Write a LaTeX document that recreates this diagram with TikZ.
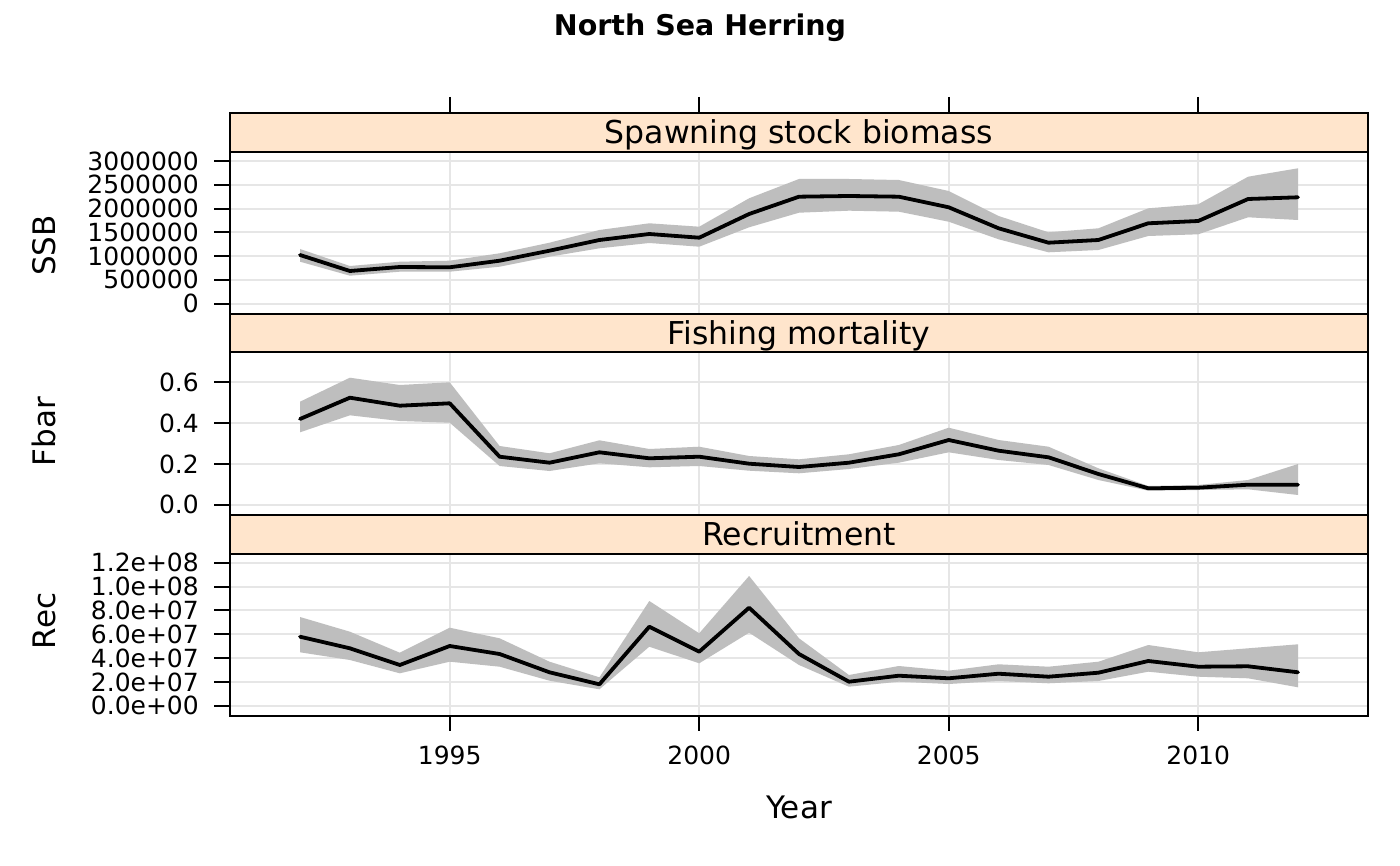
\documentclass[tikz,border=0pt]{standalone}
\usepackage{fontspec}
\setmainfont{DejaVu Sans}
\definecolor{stripbg}{HTML}{FFE5CC}
\definecolor{bandgray}{HTML}{BEBEBE}
\definecolor{gridc}{HTML}{E6E6E6}
\tikzset{
  frame/.style={line width=2pt, draw=black},
  tickmark/.style={line width=2pt, draw=black},
  gridline/.style={line width=2pt, draw=gridc},
  series/.style={line width=3.8pt, line join=round, line cap=round, draw=black},
  bandfill/.style={fill=bandgray, draw=none},
  ticklab/.style={font=\fontsize{25}{28}\selectfont, inner sep=0pt, text=black},
  striplab/.style={font=\fontsize{31.5}{36}\selectfont, inner sep=0pt, anchor=base},
  axlab/.style={font=\fontsize{31}{36}\selectfont, inner sep=0pt, anchor=base},
  titlelab/.style={font=\bfseries\fontsize{28.5}{32}\selectfont, inner sep=0pt, anchor=base},
}
\begin{document}
\begin{tikzpicture}[x=1pt, y=-1pt]
\useasboundingbox (0,0) rectangle (1400,866);
\fill[white] (0,0) rectangle (1400,866);

% ---------- grid lines ----------
\foreach \yy in {161.0,184.8,208.6,232.3,256.1,279.9,303.7}
  \draw[gridline] (230,\yy) -- (1367.7,\yy);
\foreach \yy in {382.3,423.1,463.9,504.7}
  \draw[gridline] (230,\yy) -- (1367.7,\yy);
\foreach \yy in {562.7,586.5,610.4,634.2,658.0,681.9,705.7}
  \draw[gridline] (230,\yy) -- (1367.7,\yy);
\foreach \xx in {449.7,699.2,948.7,1198.2} {
  \draw[gridline] (\xx,152) -- (\xx,314);
  \draw[gridline] (\xx,352.5) -- (\xx,515);
  \draw[gridline] (\xx,553.5) -- (\xx,715.7);
}

% ---------- SSB ----------
\fill[bandfill] (300.0,249) -- (349.9,266) -- (399.8,261.7) -- (449.7,260.7) -- (499.6,253.3) -- (549.5,242.7) -- (599.4,230) -- (649.3,223.3) -- (699.2,226.7) -- (749.1,198.3) -- (799.0,179) -- (848.9,179) -- (898.8,180) -- (948.7,191) -- (998.6,216) -- (1048.5,232.3) -- (1098.4,228.3) -- (1148.3,208.3) -- (1198.2,204.3) -- (1248.1,176.7) -- (1298.0,168.3)
  -- (1298.0,220) -- (1248.1,217.3) -- (1198.2,234.3) -- (1148.3,236) -- (1098.4,250) -- (1048.5,252.3) -- (998.6,239.3) -- (948.7,221.7) -- (898.8,211.7) -- (848.9,210.7) -- (799.0,212.7) -- (749.1,227.3) -- (699.2,246.7) -- (649.3,243) -- (599.4,248.3) -- (549.5,256.7) -- (499.6,266.7) -- (449.7,271.7) -- (399.8,271.7) -- (349.9,275.7) -- (300.0,261.7) -- cycle;
\draw[series] (300.0,255) -- (349.9,271) -- (399.8,267) -- (449.7,267.3) -- (499.6,260.7) -- (549.5,250.7) -- (599.4,240) -- (649.3,234) -- (699.2,237.7) -- (749.1,214) -- (799.0,196.7) -- (848.9,196) -- (898.8,196.7) -- (948.7,207.3) -- (998.6,228.3) -- (1048.5,242.7) -- (1098.4,240) -- (1148.3,223.3) -- (1198.2,221) -- (1248.1,199) -- (1298.0,197.3);

% ---------- Fbar ----------
\fill[bandfill] (300.0,401.7) -- (349.9,377.7) -- (399.8,385) -- (449.7,382.3) -- (499.6,446) -- (549.5,453.3) -- (599.4,440.3) -- (649.3,449) -- (699.2,446.7) -- (749.1,456) -- (799.0,459.3) -- (848.9,454.3) -- (898.8,445) -- (948.7,427.7) -- (998.6,440) -- (1048.5,446.7) -- (1098.4,468.3) -- (1148.3,486) -- (1198.2,485) -- (1248.1,480) -- (1298.0,464)
  -- (1298.0,495) -- (1248.1,489.3) -- (1198.2,490) -- (1148.3,490.7) -- (1098.4,480) -- (1048.5,465) -- (998.6,460) -- (948.7,452.3) -- (898.8,462.7) -- (848.9,469) -- (799.0,473.3) -- (749.1,470.7) -- (699.2,466) -- (649.3,467.3) -- (599.4,463.3) -- (549.5,471) -- (499.6,466) -- (449.7,422.7) -- (399.8,421) -- (349.9,415.3) -- (300.0,432.3) -- cycle;
\draw[series] (300.0,419) -- (349.9,397.7) -- (399.8,405.7) -- (449.7,403.3) -- (499.6,456.7) -- (549.5,462.7) -- (599.4,452.3) -- (649.3,458.3) -- (699.2,456.7) -- (749.1,463.7) -- (799.0,467) -- (848.9,462.7) -- (898.8,454.3) -- (948.7,440) -- (998.6,450.7) -- (1048.5,457.3) -- (1098.4,474) -- (1148.3,488.3) -- (1198.2,487.7) -- (1248.1,484.7) -- (1298.0,484.7);

% ---------- Rec ----------
\fill[bandfill] (300.0,617) -- (349.9,631.7) -- (399.8,652.7) -- (449.7,627.7) -- (499.6,638.3) -- (549.5,661.7) -- (599.4,677.3) -- (649.3,601) -- (699.2,633.3) -- (749.1,576) -- (799.0,638.3) -- (848.9,675) -- (898.8,666) -- (948.7,670.7) -- (998.6,664.3) -- (1048.5,666.7) -- (1098.4,661.7) -- (1148.3,645) -- (1198.2,652.3) -- (1248.1,648.3) -- (1298.0,644.3)
  -- (1298.0,687.3) -- (1248.1,678.3) -- (1198.2,676.7) -- (1148.3,671.7) -- (1098.4,681) -- (1048.5,683.3) -- (998.6,681) -- (948.7,684) -- (898.8,681.7) -- (848.9,686.7) -- (799.0,665) -- (749.1,632.7) -- (699.2,663.3) -- (649.3,646.7) -- (599.4,689.3) -- (549.5,680.7) -- (499.6,666.7) -- (449.7,661.7) -- (399.8,673.3) -- (349.9,660) -- (300.0,652.3) -- cycle;
\draw[series] (300.0,636.7) -- (349.9,648.3) -- (399.8,665) -- (449.7,646) -- (499.6,654) -- (549.5,672.3) -- (599.4,684.3) -- (649.3,626.7) -- (699.2,651.7) -- (749.1,607.7) -- (799.0,654) -- (848.9,681.7) -- (898.8,675.7) -- (948.7,678.3) -- (998.6,673.7) -- (1048.5,676.7) -- (1098.4,672.7) -- (1148.3,661) -- (1198.2,666.7) -- (1248.1,666.3) -- (1298.0,672.3);

% ---------- strips ----------
\filldraw[frame, fill=stripbg] (230,113) rectangle (1367.7,152);
\filldraw[frame, fill=stripbg] (230,314) rectangle (1367.7,352.5);
\filldraw[frame, fill=stripbg] (230,515) rectangle (1367.7,553.5);
\node[striplab] (s1) at (798.9,143.5) {Spawning stock biomass};
\node[striplab] (s2) at (798.9,344.5) {Fishing mortality};
\node[striplab] (s3) at (798.9,545.5) {Recruitment};

% ---------- panel frames ----------
\draw[frame] (230,152) rectangle (1367.7,314);
\draw[frame] (230,352.5) rectangle (1367.7,515);
\draw[frame] (230,553.5) rectangle (1367.7,715.7);

% ---------- ticks ----------
\foreach \xx in {449.7,699.2,948.7,1198.2} {
  \draw[tickmark] (\xx,97) -- (\xx,113);
  \draw[tickmark] (\xx,715.7) -- (\xx,731);
}
\foreach \yy in {161.0,184.8,208.6,232.3,256.1,279.9,303.7,382.3,423.1,463.9,504.7,562.7,586.5,610.4,634.2,658.0,681.9,705.7}
  \draw[tickmark] (214,\yy) -- (230,\yy);

% ---------- tick labels ----------
\foreach \yy/\lab in {161.0/3000000,184.8/2500000,208.6/2000000,232.3/1500000,256.1/1000000,279.9/500000,303.7/0}
  \node[ticklab, anchor=east] at (199,\yy) {\lab};
\foreach \yy/\lab in {382.3/0.6,423.1/0.4,463.9/0.2,504.7/0.0}
  \node[ticklab, anchor=east] at (199,\yy) {\lab};
\foreach \yy/\lab in {562.7/1.2e+08,586.5/1.0e+08,610.4/8.0e+07,634.2/6.0e+07,658.0/4.0e+07,681.9/2.0e+07,705.7/0.0e+00}
  \node[ticklab, anchor=east] at (199,\yy) {\lab};
\foreach \xx/\lab in {449.7/1995,699.2/2000,948.7/2005,1198.2/2010}
  \node[ticklab, anchor=base] at (\xx,764) {\lab};

% ---------- axis labels and title ----------
\node[axlab, rotate=90] (ssb) at (55,245.5) {SSB};
\node[axlab, rotate=90] (fbar) at (55,431.7) {Fbar};
\node[axlab, rotate=90] (rec) at (55,621) {Rec};
\node[axlab] (year) at (798.9,818) {Year};
\node[titlelab] (title) at (700,35.7) {North Sea Herring};
\end{tikzpicture}
\end{document}
